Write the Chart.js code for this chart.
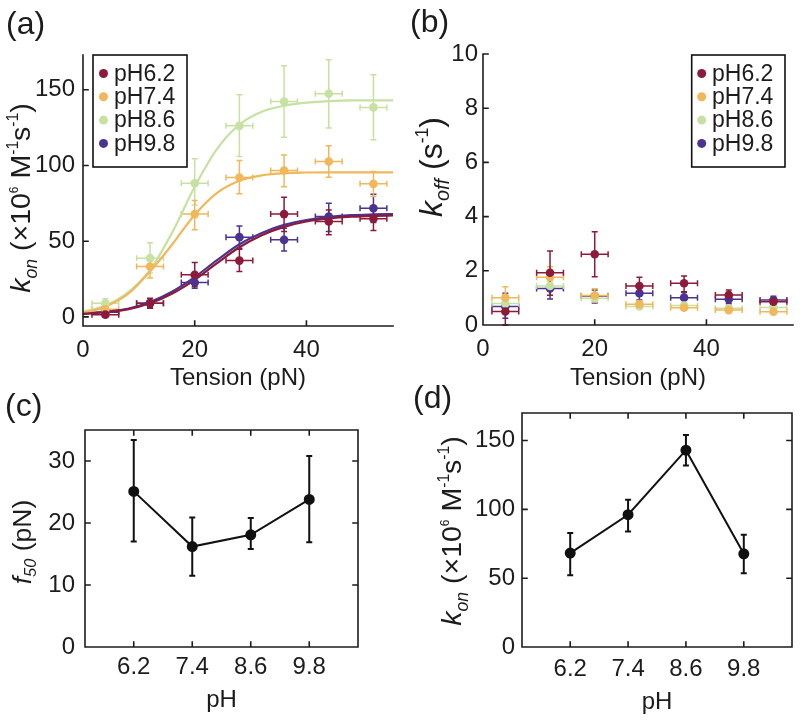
<!DOCTYPE html>
<html><head><meta charset="utf-8">
<script src="https://cdn.jsdelivr.net/npm/chart.js@4.4.1/dist/chart.umd.min.js"></script>
<style>
html,body{margin:0;padding:0;background:#fff;}
#wrap{position:relative;width:800px;height:722px;overflow:hidden;background:#fff;}
canvas{position:absolute;}
</style></head><body>
<div id="wrap">
<canvas id="cA" width="400" height="400" style="left:0;top:0"></canvas>
<canvas id="cB" width="400" height="400" style="left:400px;top:0"></canvas>
<canvas id="cC" width="400" height="342" style="left:0;top:380px"></canvas>
<canvas id="cD" width="400" height="342" style="left:400px;top:380px"></canvas>
</div>
<script>
// ---------- DATA ----------
const seriesNames = ['pH6.2', 'pH7.4', 'pH8.6', 'pH9.8'];
const tension = [4, 12, 20, 28, 36, 44, 52];
const tensionErr = [2.4, 2.4, 2.4, 2.4, 2.4, 2.4, 2.4];
const tensionTicks = [0, 20, 40];

// panel (a) kon vs tension (x10^6 M^-1 s^-1)
const konPH62   = [1.5, 9, 27.8, 37.2, 67.9, 63.0, 64.8];
const konPH62Lo = [0, 5.8, 20, 30, 56.4, 54.2, 57];
const konPH62Hi = [3.5, 12.4, 35.9, 44.7, 79.1, 70.7, 72.5];
const konPH74   = [5, 33.3, 67.9, 92.1, 96.7, 102.6, 87.9];
const konPH74Lo = [3, 25.7, 57.5, 81.3, 86, 92.3, 79.5];
const konPH74Hi = [7, 39, 76.9, 103.3, 107, 113, 96];
const konPH86   = [9, 38.8, 88.3, 126.2, 142.3, 147.4, 138.4];
const konPH86Lo = [6, 29, 74, 106, 118.7, 124.7, 117];
const konPH86Hi = [12, 49, 104.4, 146.7, 165.9, 169.9, 160];
const konPH98   = [3, 9, 22.7, 52.7, 50.9, 66.3, 71.8];
const konPH98Lo = [1, 6, 19, 45.4, 43.6, 56.4, 62.3];
const konPH98Hi = [5, 12, 26.2, 60, 58.6, 75.1, 81.1];
const konTicks = [0, 50, 100, 150];

// fitted curves
const fitTension = [0, 4, 8, 12, 16, 20, 24, 28, 32, 36, 40, 44, 48, 52, 56];
const fitPH62 = [2, 3.2, 5, 9, 15.5, 24.5, 35.5, 46, 54, 59.5, 63, 65, 66.2, 66.8, 67];
const fitPH74 = [2.5, 6.8, 15, 30, 48, 67.5, 82, 90, 93.5, 95, 95.4, 95.5, 95.5, 95.5, 95.5];
const fitPH86 = [3.5, 7.5, 16, 31, 56, 86, 111, 127, 135.5, 139.5, 141.5, 142.5, 143, 143, 143];
const fitPH98 = [2, 3.4, 5.4, 9.8, 16.8, 26.3, 37.5, 48, 55.5, 60.8, 64, 66, 67.2, 67.7, 68];

// panel (b) koff vs tension (s^-1)
const koffPH62   = [0.5, 1.93, 2.61, 1.44, 1.54, 1.11, 0.86];
const koffPH62Lo = [0, 1.1, 1.78, 1.14, 1.23, 0.92, 0.74];
const koffPH62Hi = [1.0, 2.73, 3.44, 1.76, 1.81, 1.29, 0.98];
const koffPH74   = [1.01, 1.76, 1.09, 0.77, 0.64, 0.55, 0.49];
const koffPH74Lo = [0.61, 1.35, 0.85, 0.65, 0.56, 0.48, 0.42];
const koffPH74Hi = [1.41, 2.15, 1.34, 0.89, 0.72, 0.62, 0.56];
const koffPH86   = [0.79, 1.44, 0.99, 0.68, 0.72, 0.62, 0.65];
const koffPH86Lo = [0.59, 1.28, 0.87, 0.58, 0.64, 0.54, 0.58];
const koffPH86Hi = [0.99, 1.6, 1.11, 0.78, 0.8, 0.7, 0.72];
const koffPH98   = [0.68, 1.35, 1.07, 1.17, 1.01, 0.95, 0.92];
const koffPH98Lo = [0.25, 0.96, 0.81, 0.92, 0.8, 0.78, 0.77];
const koffPH98Hi = [1.17, 1.72, 1.29, 1.44, 1.2, 1.1, 1.06];
const koffTicks = [0, 2, 4, 6, 8, 10];

// panels (c) and (d)
const phValues = [6.2, 7.4, 8.6, 9.8];
const phTickLabels = ['6.2', '7.4', '8.6', '9.8'];
const f50   = [25.1, 16.2, 18.1, 23.8];
const f50Lo = [17.0, 11.5, 15.8, 16.9];
const f50Hi = [33.4, 20.9, 20.8, 30.8];
const f50Ticks = [0, 10, 20, 30];
const konMax   = [68.2, 96.1, 143, 67.7];
const konMaxLo = [52.1, 84, 131.9, 53.6];
const konMaxHi = [82.8, 107, 154, 81.5];
const konMaxTicks = [0, 50, 100, 150];

// ---------- STYLE ----------
const seriesColors = ['#8c1a3a', '#f0b85a', '#c6e1a2', '#4a3391'];
const FONT = '"Liberation Sans", Arial, Helvetica, sans-serif';
const INK = '#1c1c1c';
Chart.defaults.font.family = FONT;
Chart.defaults.color = INK;

const pts = (xs, ys) => xs.map((x, i) => ({x: x, y: ys[i]}));

function richFont(p, size) {
  const s = (p.sup || p.sub) ? size * (p.scale || 0.62) : size;
  return (p.i ? 'italic ' : '') + s + 'px ' + FONT;
}
function drawRich(ctx, parts, cx, cy, size) {
  ctx.save();
  ctx.translate(cx, cy);
  ctx.rotate(-Math.PI / 2);
  ctx.fillStyle = INK; ctx.textBaseline = 'alphabetic'; ctx.textAlign = 'left';
  let w = 0;
  parts.forEach(p => { ctx.font = richFont(p, size); w += ctx.measureText(p.t).width; });
  let x = -w / 2;
  const base = size * 0.36;
  parts.forEach(p => {
    ctx.font = richFont(p, size);
    let dy = base;
    if (p.sub) dy += size * 0.22;
    if (p.sup) dy -= size * 0.42;
    ctx.fillText(p.t, x, dy);
    x += ctx.measureText(p.t).width;
  });
  ctx.restore();
}

const konTitle = [{t:'k', i:1}, {t:'on', i:1, sub:1}, {t:' (×10'}, {t:'6', sup:1, scale:0.42}, {t:' M'}, {t:'-1', sup:1, scale:0.55}, {t:'s'}, {t:'-1', sup:1, scale:0.55}, {t:')'}];
const koffTitle = [{t:'k', i:1}, {t:'off', i:1, sub:1}, {t:' (s'}, {t:'-1', sup:1, scale:0.55}, {t:')'}];
const f50Title = [{t:'f', i:1}, {t:'50', i:1, sub:1}, {t:' (pN)'}];

const decoCfg = {
  cA: {label:'(a)', lx:6, ly:25, title:konTitle, tx:20, ty:198, ts:28.5, box:false,
       legend:{x:93, y:55, w:94, h:112, y0:73.5, dy:23.3, mx:103.5, tx:114}},
  cB: {label:'(b)', lx:10, ly:23, title:koffTitle, tx:30, ty:167, ts:32, box:false,
       legend:{x:291.7, y:55, w:93.3, h:112, y0:73.5, dy:23.3, mx:301.7, tx:312}},
  cC: {label:'(c)', lx:5, ly:27, title:f50Title, tx:21, ty:162, ts:26.5, box:true},
  cD: {label:'(d)', lx:13, ly:19, title:konTitle, tx:51, ty:151, ts:28.5, box:true}
};

const errorBars = {
  id: 'errorBars',
  beforeDatasetsDraw(chart) {
    const {ctx, scales: {x, y}} = chart;
    const ds = chart.data.datasets;
    for (let i = ds.length - 1; i >= 0; i--) {
      const d = ds[i];
      if (!d.errLo) continue;
      ctx.save();
      ctx.strokeStyle = d.borderColor; ctx.lineWidth = d.errWidth || 1.5;
      const c = d.capSize || 3;
      d.data.forEach((p, j) => {
        const px = x.getPixelForValue(p.x), py = y.getPixelForValue(p.y);
        const yl = y.getPixelForValue(d.errLo[j]), yh = y.getPixelForValue(d.errHi[j]);
        ctx.beginPath();
        ctx.moveTo(px, yl); ctx.lineTo(px, yh);
        ctx.moveTo(px - c, yl); ctx.lineTo(px + c, yl);
        ctx.moveTo(px - c, yh); ctx.lineTo(px + c, yh);
        if (d.xErr) {
          const xl = x.getPixelForValue(p.x - d.xErr[j]), xh = x.getPixelForValue(p.x + d.xErr[j]);
          ctx.moveTo(xl, py); ctx.lineTo(xh, py);
          ctx.moveTo(xl, py - c); ctx.lineTo(xl, py + c);
          ctx.moveTo(xh, py - c); ctx.lineTo(xh, py + c);
        }
        ctx.stroke();
      });
      ctx.restore();
    }
  }
};

const deco = {
  id: 'deco',
  afterDatasetsDraw(chart) {
    const o = decoCfg[chart.canvas.id];
    const {ctx, chartArea: a, scales: {x, y}} = chart;
    ctx.save();
    ctx.strokeStyle = INK; ctx.lineWidth = 1.6; ctx.lineCap = 'square';
    ctx.beginPath();
    ctx.moveTo(a.left, a.top); ctx.lineTo(a.left, a.bottom); ctx.lineTo(a.right, a.bottom);
    if (o.box) { ctx.lineTo(a.right, a.top); ctx.lineTo(a.left, a.top); }
    const t = 5;
    y.ticks.forEach(tk => {
      const py = y.getPixelForValue(tk.value);
      ctx.moveTo(a.left, py); ctx.lineTo(a.left + t, py);
      if (o.box) { ctx.moveTo(a.right, py); ctx.lineTo(a.right - t, py); }
    });
    x.ticks.forEach(tk => {
      const px = x.getPixelForValue(tk.value);
      ctx.moveTo(px, a.bottom); ctx.lineTo(px, a.bottom - t);
      if (o.box) { ctx.moveTo(px, a.top); ctx.lineTo(px, a.top + t); }
    });
    ctx.stroke();
    ctx.restore();

    if (o.legend) {
      const L = o.legend;
      ctx.save();
      ctx.fillStyle = '#fff'; ctx.fillRect(L.x, L.y, L.w, L.h);
      ctx.strokeStyle = '#111'; ctx.lineWidth = 1.6; ctx.strokeRect(L.x, L.y, L.w, L.h);
      ctx.font = '23px ' + FONT; ctx.textBaseline = 'middle'; ctx.textAlign = 'left';
      seriesNames.forEach((n, i) => {
        const yy = L.y0 + i * L.dy;
        ctx.fillStyle = seriesColors[i];
        ctx.beginPath(); ctx.arc(L.mx, yy, 4.5, 0, 2 * Math.PI); ctx.fill();
        ctx.fillStyle = INK; ctx.fillText(n, L.tx, yy + 1);
      });
      ctx.restore();
    }
    ctx.save();
    ctx.font = '32px ' + FONT; ctx.fillStyle = INK; ctx.textBaseline = 'middle'; ctx.textAlign = 'left';
    ctx.fillText(o.label, o.lx, o.ly);
    ctx.restore();
    drawRich(ctx, o.title, o.tx, o.ty, o.ts);
  }
};

function axisX(min, max, ticks, labels, title, padTick, hgt, padTitle) {
  return {
    type: 'linear', min: min, max: max,
    afterBuildTicks: s => { s.ticks = ticks.map(v => ({value: v})); },
    afterFit: s => { s.height = hgt; },
    ticks: {font: {size: 24}, color: INK, padding: padTick, maxRotation: 0, autoSkip: false,
            callback: (v) => { const k = ticks.indexOf(v); return labels ? labels[k] : String(v); }},
    grid: {display: false, drawTicks: false},
    border: {display: false},
    title: {display: true, text: title, color: INK, font: {size: 24}, padding: {top: 0, bottom: padTitle}}
  };
}
function axisY(min, max, ticks, wid, padTick) {
  return {
    type: 'linear', min: min, max: max,
    afterBuildTicks: s => { s.ticks = ticks.map(v => ({value: v})); },
    afterFit: s => { s.width = wid; },
    ticks: {font: {size: 24}, color: INK, padding: padTick, autoSkip: false},
    grid: {display: false, drawTicks: false},
    border: {display: false}
  };
}
function baseOpts(pad, scales) {
  return {
    responsive: false, animation: false, devicePixelRatio: 1,
    layout: {padding: pad},
    plugins: {legend: {display: false}, tooltip: {enabled: false}},
    scales: scales
  };
}
function ptSet(label, color, xs, ys, lo, hi, xe) {
  return {type: 'scatter', label: label, data: pts(xs, ys), errLo: lo, errHi: hi, xErr: xe,
          backgroundColor: color, borderColor: color, pointRadius: 4.3, pointBorderWidth: 0, showLine: false};
}
function fitSet(label, color, ys) {
  return {type: 'line', label: label, data: pts(fitTension, ys), borderColor: color, borderWidth: 2.2,
          pointRadius: 0, cubicInterpolationMode: 'monotone', fill: false, showLine: true};
}

// (a)
new Chart(document.getElementById('cA'), {
  type: 'scatter',
  data: {datasets: [
    ptSet(seriesNames[0], seriesColors[0], tension, konPH62, konPH62Lo, konPH62Hi, tensionErr),
    ptSet(seriesNames[1], seriesColors[1], tension, konPH74, konPH74Lo, konPH74Hi, tensionErr),
    ptSet(seriesNames[2], seriesColors[2], tension, konPH86, konPH86Lo, konPH86Hi, tensionErr),
    ptSet(seriesNames[3], seriesColors[3], tension, konPH98, konPH98Lo, konPH98Hi, tensionErr),
    fitSet('fit ' + seriesNames[0], seriesColors[0], fitPH62),
    fitSet('fit ' + seriesNames[1], seriesColors[1], fitPH74),
    fitSet('fit ' + seriesNames[2], seriesColors[2], fitPH86),
    fitSet('fit ' + seriesNames[3], seriesColors[3], fitPH98)
  ]},
  options: baseOpts({top: 55, right: 7, left: 0, bottom: 0}, {
    x: axisX(0, 55.5, tensionTicks, null, 'Tension (pN)', 10, 74, 7.6),
    y: axisY(-6, 173, konTicks, 83, 8)
  }),
  plugins: [errorBars, deco]
});

// (b)
new Chart(document.getElementById('cB'), {
  type: 'scatter',
  data: {datasets: [
    ptSet(seriesNames[0], seriesColors[0], tension, koffPH62, koffPH62Lo, koffPH62Hi, tensionErr),
    ptSet(seriesNames[1], seriesColors[1], tension, koffPH74, koffPH74Lo, koffPH74Hi, tensionErr),
    ptSet(seriesNames[2], seriesColors[2], tension, koffPH86, koffPH86Lo, koffPH86Hi, tensionErr),
    ptSet(seriesNames[3], seriesColors[3], tension, koffPH98, koffPH98Lo, koffPH98Hi, tensionErr)
  ]},
  options: baseOpts({top: 54, right: 7, left: 0, bottom: 0}, {
    x: axisX(0, 55.5, tensionTicks, null, 'Tension (pN)', 10, 75, 7.6),
    y: axisY(0, 10, koffTicks, 83, 5)
  }),
  plugins: [errorBars, deco]
});

function blackSet(label, ys, lo, hi) {
  return {type: 'line', label: label, data: pts(phValues, ys), errLo: lo, errHi: hi, errWidth: 2, capSize: 3,
          borderColor: '#111', backgroundColor: '#111', borderWidth: 2, pointRadius: 4.5, tension: 0, fill: false};
}

// (c)
new Chart(document.getElementById('cC'), {
  type: 'scatter',
  data: {datasets: [blackSet('f50', f50, f50Lo, f50Hi)]},
  options: baseOpts({top: 50, right: 42, left: 0, bottom: 0}, {
    x: axisX(5.2, 10.8, phValues, phTickLabels, 'pH', 6, 75, 7.6),
    y: axisY(0, 35, f50Ticks, 85, 10)
  }),
  plugins: [errorBars, deco]
});

// (d)
new Chart(document.getElementById('cD'), {
  type: 'scatter',
  data: {datasets: [blackSet('kon', konMax, konMaxLo, konMaxHi)]},
  options: baseOpts({top: 33, right: 8, left: 0, bottom: 0}, {
    x: axisX(5.2, 10.8, phValues, phTickLabels, 'pH', 8, 75, 5.6),
    y: axisY(0, 170, konMaxTicks, 122, 7)
  }),
  plugins: [errorBars, deco]
});
</script>
</body></html>
